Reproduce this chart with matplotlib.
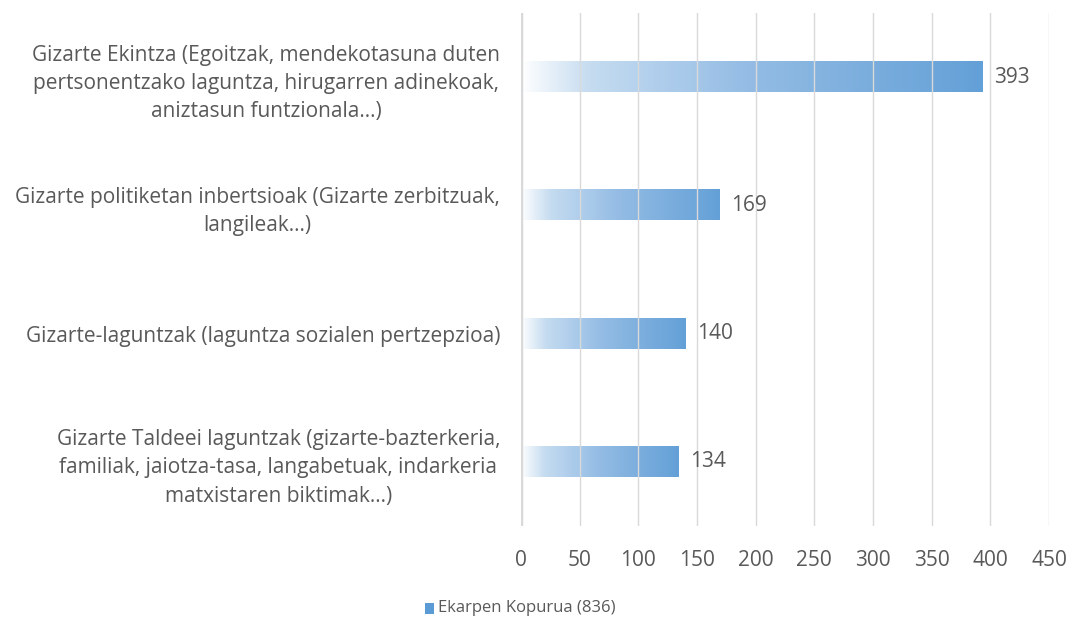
import numpy as np
import matplotlib.pyplot as plt
from matplotlib.colors import LinearSegmentedColormap
from matplotlib.patches import Rectangle

# datuak
kategoriak = [
    'Gizarte Taldeei laguntzak (gizarte-bazterkeria,\nfamiliak, jaiotza-tasa, langabetuak, indarkeria\nmatxistaren biktimak…)',
    'Gizarte-laguntzak (laguntza sozialen pertzepzioa)',
    'Gizarte politiketan inbertsioak (Gizarte zerbitzuak,\nlangileak…)',
    'Gizarte Ekintza (Egoitzak, mendekotasuna duten\npertsonentzako laguntza, hirugarren adinekoak,\naniztasun funtzionala…)',
]
balioak = [134, 140, 169, 393]
serie_izena = 'Ekarpen Kopurua (836)'
x_ticks = [0, 50, 100, 150, 200, 250, 300, 350, 400, 450]

urdina = '#5B9BD5'
testua = '#595959'
sareta = '#D9D9D9'

plt.rcParams['font.family'] = ['Open Sans', 'DejaVu Sans']

fig = plt.figure(figsize=(10.69, 6.19), dpi=100)
ax = fig.add_axes([521/1069, 1 - 526/619, (1049 - 521)/1069, (526 - 13)/619])

# gradientea: zuritik urdinera
cmap = LinearSegmentedColormap.from_list(
    'grad', [(0.0, '#FFFFFF'), (0.15, '#C2DAF0'), (0.5, '#8DB8E3'), (1.0, urdina)])
grad = np.linspace(0, 1, 256).reshape(1, -1)

ax.set_xlim(0, 450)
ax.set_ylim(-0.5, len(balioak) - 0.5)
ax.set_xticks(x_ticks)
ax.set_yticks(range(len(kategoriak)))
ax.set_yticklabels(kategoriak, multialignment='center', linespacing=1.45)

ax.grid(axis='x', color=sareta, linewidth=1.0, zorder=3)
ax.set_axisbelow(False)

h = 0.235
for i, v in enumerate(balioak):
    ax.imshow(grad, cmap=cmap, aspect='auto', extent=[0, v, i - h/2, i + h/2],
              zorder=2, interpolation='bicubic', alpha=0.95)
    ax.text(v + 10, i, str(v), va='center', ha='left', fontsize=15, color=testua)

ax.axvline(0, color=sareta, linewidth=2.5, zorder=4)

for s in ax.spines.values():
    s.set_visible(False)
ax.tick_params(axis='both', length=0, labelsize=15, labelcolor=testua)
ax.tick_params(axis='x', pad=17)
ax.tick_params(axis='y', pad=15)

# legenda
fig.patches.append(Rectangle((425/1069, 1 - 614/619), 9/1069, 11/619,
                             transform=fig.transFigure, facecolor=urdina, edgecolor='none'))
fig.text(438/1069, 1 - 608/619, serie_izena, ha='left', va='center', fontsize=12, color=testua)

fig.savefig('out.png', dpi=100)
